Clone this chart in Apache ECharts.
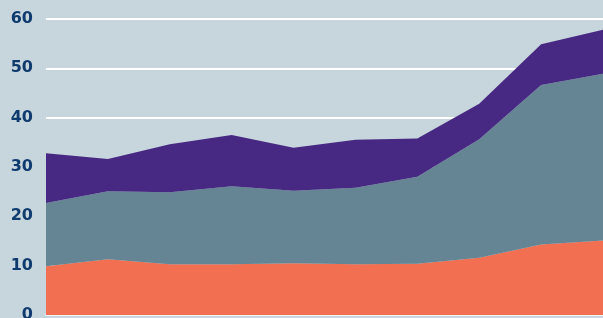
<!DOCTYPE html>
<html><head><meta charset="utf-8">
<script src="https://cdn.jsdelivr.net/npm/echarts@6/dist/echarts.min.js"></script>
<style>html,body{margin:0;padding:0;background:#c7d6dd}#c{width:603px;height:318px}</style>
</head><body><div id="c"></div>
<script>
var categories = ['1','2','3','4','5','6','7','8','9','10'];
var seriesA = [9.9, 11.3, 10.3, 10.3, 10.5, 10.3, 10.4, 11.6, 14.3, 15.1];
var seriesB = [12.8, 13.8, 14.6, 15.8, 14.7, 15.5, 17.6, 24.0, 32.3, 33.8];
var seriesC = [10.1, 6.5, 9.7, 10.4, 8.7, 9.7, 7.8, 7.2, 8.3, 8.9];
var yTicks = [0, 10, 20, 30, 40, 50, 60];

var chart = echarts.init(document.getElementById('c'), null, {renderer: 'canvas'});
function mk(name, data, color) {
  return {name: name, type: 'line', stack: 'total', data: data, symbol: 'none',
    lineStyle: {width: 0}, areaStyle: {color: color, opacity: 1}, itemStyle: {color: color}};
}
chart.setOption({
  backgroundColor: '#c7d6dd',
  animation: false,
  grid: {left: 46, right: 0, top: 19, bottom: 3, containLabel: false, outerBoundsMode: 'none'},
  xAxis: {type: 'category', data: categories, boundaryGap: false,
    axisLine: {show: true, lineStyle: {color: '#eef3f5', width: 2}}, axisTick: {show: false}, axisLabel: {show: false}},
  yAxis: {type: 'value', min: yTicks[0], max: yTicks[yTicks.length - 1], interval: 10,
    axisLine: {show: false}, axisTick: {show: false},
    splitLine: {lineStyle: {color: '#ffffff', width: 2}},
    axisLabel: {color: '#0e3a6e', fontFamily: 'DejaVu Sans', fontWeight: 'bold', fontSize: 16, margin: 13}},
  series: [mk('A', seriesA, '#f36f51'), mk('B', seriesB, '#668594'), mk('C', seriesC, '#472882')]
});
</script></body></html>
